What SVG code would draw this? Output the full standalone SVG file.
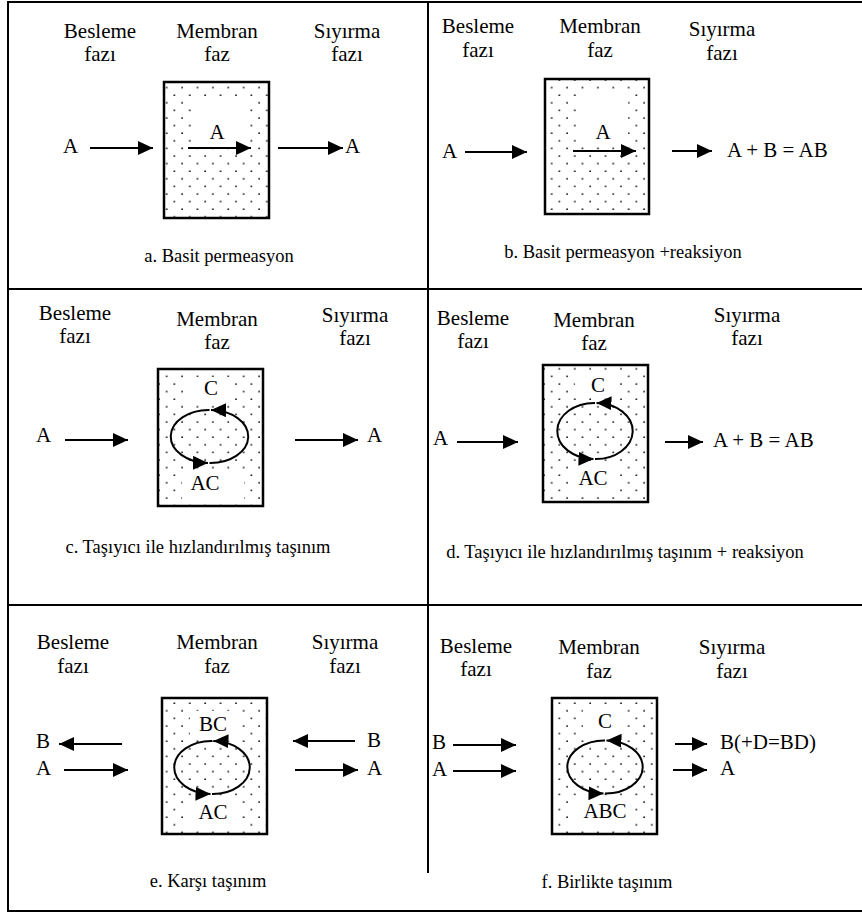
<svg xmlns="http://www.w3.org/2000/svg" width="862" height="913" viewBox="0 0 862 913">
<style>
.t{font-family:"Liberation Serif","Times New Roman",serif;font-size:21px;fill:#000}
.m{text-anchor:middle}
.cap{font-family:"Liberation Serif","Times New Roman",serif;font-size:18.5px;fill:#000;text-anchor:middle}
.grid{stroke:#000;stroke-width:2;fill:none}
.mem{fill:url(#dots);stroke:#000;stroke-width:2.5}
.bg{fill:#fff}
.ar{stroke:#000;stroke-width:2;fill:none;marker-end:url(#ah)}
.cy{stroke:#000;stroke-width:2;fill:none;marker-end:url(#ah2)}
</style>
<defs>
<pattern id="dots" patternUnits="userSpaceOnUse" width="15.4" height="15.2" x="2" y="1">
<rect width="15.4" height="15.2" fill="#fff"/>
<circle cx="3" cy="3" r="0.9" fill="#111"/>
<circle cx="10.7" cy="10.6" r="0.9" fill="#111"/>
</pattern>
<marker id="ah" markerUnits="userSpaceOnUse" markerWidth="16" markerHeight="14" refX="15" refY="7" orient="auto">
<path d="M0,0 L15,7 L0,14 z" fill="#000"/>
</marker>
<marker id="ah2" markerUnits="userSpaceOnUse" markerWidth="17" markerHeight="14" refX="15" refY="7" orient="auto">
<path d="M0,0 L15,7 L0,14 z" fill="#000"/>
</marker>
</defs>
<rect width="862" height="913" fill="#fff"/>
<g id="frame" class="grid">
<line x1="8" y1="2" x2="862" y2="2"/>
<line x1="8" y1="911" x2="862" y2="911"/>
<line x1="8" y1="1" x2="8" y2="912"/>
<line x1="428" y1="1" x2="428" y2="873"/>
<line x1="8" y1="289" x2="862" y2="289"/>
<line x1="8" y1="605" x2="862" y2="605"/>
</g>

<g id="panel-a">
<g id="a-feed"><text class="t m" x="100" y="38">Besleme</text><text class="t m" x="100" y="61">fazı</text></g>
<g id="a-membrane">
<text class="t m" x="217" y="38">Membran</text><text class="t m" x="217" y="61">faz</text>
<rect class="mem" x="164" y="82" width="105" height="136"/>
<rect class="bg" x="193" y="98" width="52" height="44"/>
<text class="t m" x="217" y="139">A</text>
</g>
<g id="a-strip"><text class="t m" x="347" y="38">Sıyırma</text><text class="t m" x="347" y="61">fazı</text></g>
<g id="a-labels"><text class="t" x="63" y="153">A</text><text class="t" x="345" y="153">A</text></g>
<text class="cap" x="219" y="262">a. Basit permeasyon</text>
</g>

<g id="panel-b">
<g id="b-feed"><text class="t m" x="478" y="33">Besleme</text><text class="t m" x="478" y="57">fazı</text></g>
<g id="b-membrane">
<text class="t m" x="600" y="33">Membran</text><text class="t m" x="600" y="57">faz</text>
<rect class="mem" x="545" y="79" width="104" height="135"/>
<rect class="bg" x="578" y="92" width="50" height="52"/>
<text class="t m" x="603" y="139">A</text>
</g>
<g id="b-strip"><text class="t m" x="722" y="36">Sıyırma</text><text class="t m" x="722" y="60">fazı</text></g>
<g id="b-labels"><text class="t" x="442" y="158">A</text><text class="t" x="727" y="157">A + B = AB</text></g>
<text class="cap" x="623" y="258">b. Basit permeasyon +reaksiyon</text>
</g>

<g id="panel-c">
<g id="c-feed"><text class="t m" x="75" y="320">Besleme</text><text class="t m" x="75" y="343">fazı</text></g>
<g id="c-membrane">
<text class="t m" x="217" y="326">Membran</text><text class="t m" x="217" y="349">faz</text>
<rect class="mem" x="158" y="369" width="105" height="137"/>
<rect class="bg" x="188" y="377" width="44" height="26"/>
<rect class="bg" x="182" y="469" width="62" height="30"/>
<text class="t m" x="211" y="395">C</text>
<text class="t m" x="205" y="490">AC</text>
</g>
<g id="c-strip"><text class="t m" x="355" y="322">Sıyırma</text><text class="t m" x="355" y="345">fazı</text></g>
<g id="c-labels"><text class="t" x="36" y="442">A</text><text class="t" x="367" y="442">A</text></g>
<text class="cap" x="198" y="553">c. Taşıyıcı ile hızlandırılmış taşınım</text>
</g>

<g id="panel-d">
<g id="d-feed"><text class="t m" x="473" y="325">Besleme</text><text class="t m" x="473" y="348">fazı</text></g>
<g id="d-membrane">
<text class="t m" x="594" y="327">Membran</text><text class="t m" x="594" y="350">faz</text>
<rect class="mem" x="543" y="365" width="105" height="137"/>
<rect class="bg" x="575" y="372" width="44" height="26"/>
<rect class="bg" x="568" y="464" width="52" height="30"/>
<text class="t m" x="598" y="392">C</text>
<text class="t m" x="593" y="485">AC</text>
</g>
<g id="d-strip"><text class="t m" x="747" y="322">Sıyırma</text><text class="t m" x="747" y="345">fazı</text></g>
<g id="d-labels"><text class="t" x="433" y="445">A</text><text class="t" x="713" y="447">A + B = AB</text></g>
<text class="cap" x="625" y="558">d. Taşıyıcı ile hızlandırılmış taşınım + reaksiyon</text>
</g>

<g id="panel-e">
<g id="e-feed"><text class="t m" x="73" y="649">Besleme</text><text class="t m" x="73" y="673">fazı</text></g>
<g id="e-membrane">
<text class="t m" x="217" y="649">Membran</text><text class="t m" x="217" y="673">faz</text>
<rect class="mem" x="162" y="698" width="105" height="136"/>
<rect class="bg" x="190" y="711" width="48" height="26"/>
<rect class="bg" x="188" y="799" width="52" height="28"/>
<text class="t m" x="213" y="731">BC</text>
<text class="t m" x="213" y="819">AC</text>
</g>
<g id="e-strip"><text class="t m" x="345" y="649">Sıyırma</text><text class="t m" x="345" y="673">fazı</text></g>
<g id="e-labels">
<text class="t" x="36" y="748">B</text><text class="t" x="36" y="775">A</text>
<text class="t" x="367" y="747">B</text><text class="t" x="367" y="775">A</text>
</g>
<text class="cap" x="208" y="887">e. Karşı taşınım</text>
</g>

<g id="panel-f">
<g id="f-feed"><text class="t m" x="476" y="653">Besleme</text><text class="t m" x="476" y="676">fazı</text></g>
<g id="f-membrane">
<text class="t m" x="599" y="654">Membran</text><text class="t m" x="599" y="678">faz</text>
<rect class="mem" x="552" y="698" width="105" height="136"/>
<rect class="bg" x="583" y="709" width="42" height="26"/>
<rect class="bg" x="570" y="797" width="60" height="30"/>
<text class="t m" x="605" y="728">C</text>
<text class="t m" x="605" y="818">ABC</text>
</g>
<g id="f-strip"><text class="t m" x="732" y="654">Sıyırma</text><text class="t m" x="732" y="678">fazı</text></g>
<g id="f-labels">
<text class="t" x="432" y="749">B</text><text class="t" x="432" y="776">A</text>
<text class="t" x="720" y="749">B(+D=BD)</text><text class="t" x="720" y="775">A</text>
</g>
<text class="cap" x="607" y="888">f. Birlikte taşınım</text>
</g>

<g id="connectors">
<line class="ar" x1="90" y1="148" x2="153" y2="148"/>
<line class="ar" x1="188" y1="148" x2="251" y2="148"/>
<line class="ar" x1="278" y1="148" x2="343" y2="148"/>

<line class="ar" x1="465" y1="152" x2="527" y2="152"/>
<line class="ar" x1="573" y1="151" x2="636" y2="151"/>
<line class="ar" x1="672" y1="151" x2="712" y2="151"/>

<line class="ar" x1="65" y1="440" x2="128" y2="440"/>
<line class="ar" x1="295" y1="440" x2="358" y2="440"/>
<path class="cy" d="M209.5,463 A38,26.5 0 0 0 211,410"/>
<path class="cy" d="M209.5,410 A38,26.5 0 0 0 208,463"/>

<line class="ar" x1="457" y1="442" x2="518" y2="442"/>
<line class="ar" x1="665" y1="442" x2="703" y2="442"/>
<path class="cy" d="M595,459 A37,28 0 0 0 596.5,403"/>
<path class="cy" d="M595,403 A37,28 0 0 0 593.5,459"/>

<line class="ar" x1="122" y1="744" x2="59" y2="744"/>
<line class="ar" x1="64" y1="770" x2="128" y2="770"/>
<line class="ar" x1="355" y1="741" x2="293" y2="741"/>
<line class="ar" x1="295" y1="770" x2="358" y2="770"/>
<path class="cy" d="M212,794 A37,26.5 0 0 0 213.5,741"/>
<path class="cy" d="M212,741 A37,26.5 0 0 0 210.5,794"/>

<line class="ar" x1="453" y1="745" x2="516" y2="745"/>
<line class="ar" x1="453" y1="771" x2="516" y2="771"/>
<line class="ar" x1="675" y1="744" x2="707" y2="744"/>
<line class="ar" x1="673" y1="770" x2="707" y2="770"/>
<path class="cy" d="M605,793.5 A37,26.5 0 0 0 606.5,740.5"/>
<path class="cy" d="M605,740.5 A37,26.5 0 0 0 603.5,793.5"/>
</g>
</svg>
